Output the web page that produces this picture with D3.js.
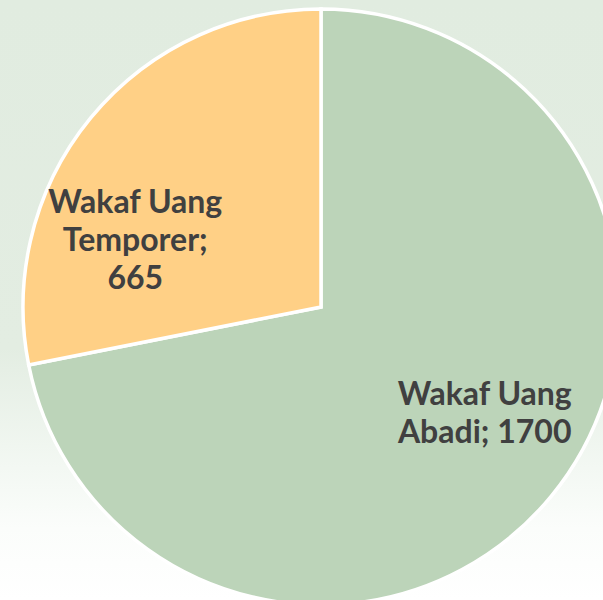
<!DOCTYPE html>
<html>
<head>
<meta charset="utf-8">
<script src="https://cdn.jsdelivr.net/npm/d3@7"></script>
<style>
  html, body { margin: 0; padding: 0; overflow: hidden; }
  body { width: 603px; height: 600px; }
</style>
</head>
<body>
<div id="chart"></div>
<script>
// data
const categories = ["Wakaf Uang Abadi", "Wakaf Uang Temporer"]
const values = [1700, 665]
const labelLines = [["Wakaf Uang", "Abadi; 1700"], ["Wakaf Uang", "Temporer;", "665"]]
const colors = ["#bcd4b9", "#ffd086"]

const width = 603, height = 600
const cx = 321, cy = 307
const radius = 298

const svg = d3.select("#chart").append("svg")
  .attr("width", width)
  .attr("height", height)

// soft green background fading to white
const grad = svg.append("defs").append("linearGradient")
  .attr("id", "bg").attr("x1", 0).attr("y1", 0).attr("x2", 0).attr("y2", 1)
grad.append("stop").attr("offset", "0%").attr("stop-color", "#e1ece0")
grad.append("stop").attr("offset", "58%").attr("stop-color", "#e3ede2")
grad.append("stop").attr("offset", "78%").attr("stop-color", "#f3f8f3")
grad.append("stop").attr("offset", "88%").attr("stop-color", "#fbfdfb")
grad.append("stop").attr("offset", "100%").attr("stop-color", "#ffffff")
svg.append("rect").attr("width", width).attr("height", height).attr("fill", "url(#bg)")

const g = svg.append("g").attr("transform", `translate(${cx},${cy})`)

const data = categories.map((c, i) => ({ name: c, value: values[i], lines: labelLines[i], color: colors[i] }))

const pie = d3.pie().sort(null).value(d => d.value)
const arc = d3.arc().innerRadius(0).outerRadius(radius)
const labelArc = d3.arc().innerRadius(radius * 0.65).outerRadius(radius * 0.65)

const arcs = pie(data)

g.selectAll("path")
  .data(arcs)
  .enter()
  .append("path")
  .attr("d", arc)
  .attr("fill", d => d.data.color)
  .attr("stroke", "#ffffff")
  .attr("stroke-width", 3.5)
  .attr("stroke-linejoin", "miter")

// nudge the labels the way the spreadsheet placed them (best fit)
const nudge = { "Wakaf Uang Abadi": [14, -17], "Wakaf Uang Temporer": [-36, 56] }
const lineH = 38

const labels = g.selectAll("text.lbl")
  .data(arcs)
  .enter()
  .append("text")
  .attr("class", "lbl")
  .attr("text-anchor", "middle")
  .attr("font-family", "Lato, 'Open Sans', sans-serif")
  .attr("font-weight", "bold")
  .attr("font-size", "32px")
  .attr("fill", "#404040")
  .attr("transform", d => {
    const c = labelArc.centroid(d)
    const n = nudge[d.data.name]
    return `translate(${c[0] + n[0]},${c[1] + n[1]})`
  })

labels.each(function(d) {
  const t = d3.select(this)
  const k = d.data.lines.length
  d.data.lines.forEach((ln, i) => {
    t.append("tspan")
      .attr("x", 0)
      .attr("y", (i - (k - 1) / 2) * lineH)
      .attr("dy", "0.35em")
      .text(ln)
  })
})
</script>
</body>
</html>
